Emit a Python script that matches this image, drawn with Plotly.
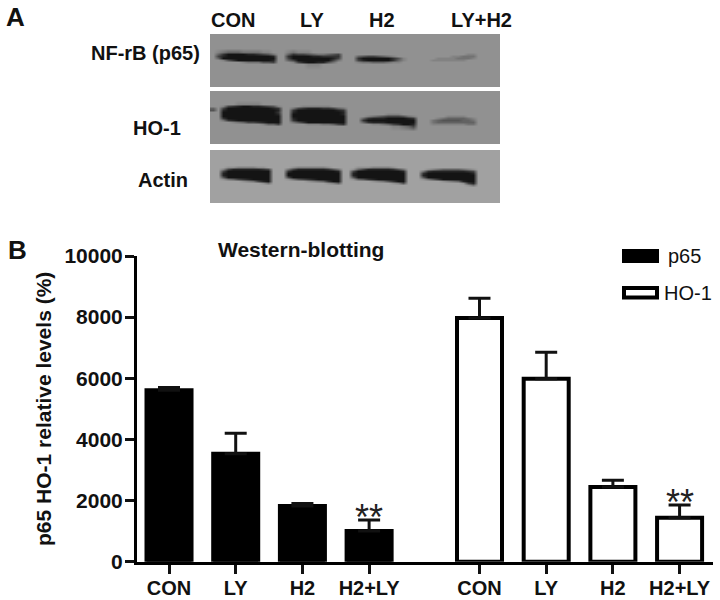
import plotly.graph_objects as go

FONT = "Liberation Sans"

# panel B: bar heights and upper error bars
groups = ["CON", "LY", "H2", "H2+LY"]
p65_values = [5610, 3535, 1820, 1005]
p65_errors = [90, 665, 80, 360]
ho1_values = [7972, 5987, 2444, 1440]
ho1_errors = [643, 863, 219, 415]
y_ticks = [0, 2000, 4000, 6000, 8000, 10000]

# panel A: blot labels
lanes = ["CON", "LY", "H2", "LY+H2"]
blots = ["NF-rB (p65)", "HO-1", "Actin"]

# blot images, one hex digit per 5 px cell (0 = black, F = white)
p65_rows_y = [3, 9, 14, 18, 20, 22, 24, 26, 28, 30, 36, 43, 47, 51]
p65_rows = [
    "8 888888888888 88 88888888888 888 8888888888 88888 888888888 88888",
    "8 888888888888 88 88888888888 888 8888888888 88888 888888888 88888",
    "8 888888888888 88 88888888888 888 8888888888 88888 888888888 88888",
    "8 765556666778 88 76777888888 888 8888888888 88888 888888888 88888",
    "8 520000112346 88 52334566543 888 8888888888 88888 888888877 88888",
    "8 310000000001 88 20000112222 888 5433456788 88888 888877666 88888",
    "8 500000000000 88 30000000013 888 2000000247 88888 877776667 88888",
    "8 874200000001 88 53000000036 888 3100000257 88888 777777788 88888",
    "8 888887666443 88 87310011468 888 7665556778 88888 888888888 88888",
    "8 888888888888 88 88887778888 888 8888888888 88888 888888888 88888",
    "8 888888888888 88 88888888888 888 8888888888 88888 888888888 88888",
    "8 888888888888 88 88888888888 888 8888888888 88888 888888888 88888",
    "8 888888888888 88 88888888888 888 8888888888 88888 888888888 88888",
    "8 888888888888 88 88888888888 888 8888888888 88888 888888888 88888",
]

ho1_rows_y = [3, 9, 13, 15, 17, 19, 21, 23, 25, 27, 29, 31, 33, 35, 40, 46, 50, 52]
ho1_rows = [
    "88 888888888888 88 88888888888 888 88888888888 888 888888888 88888",
    "88 888888888888 88 88888888888 888 88888888888 888 888888888 88888",
    "88 888777778888 88 88888888888 888 88888888888 888 888888888 88888",
    "88 732100112347 88 88777777888 888 88888888888 888 888888888 88888",
    "58 300000000012 88 63211122356 888 88888888888 888 888888888 88888",
    "48 100000000001 88 20000000012 888 88888888888 888 888888888 88888",
    "88 000000000002 88 10000000001 888 88888888888 888 888888888 88888",
    "88 000000000001 88 00000000001 888 88888777888 888 888888888 88888",
    "88 000000000000 88 00000000000 888 87654333467 888 888777788 88888",
    "88 200000000000 88 10000000000 888 52111000012 888 876555567 88888",
    "88 621000000000 88 20000000000 888 20000000000 888 654444556 88888",
    "88 887653321000 88 64200000000 888 52111000000 888 655555555 88888",
    "88 888888887553 88 88877766532 888 88776532001 888 777777766 88888",
    "88 888888888888 88 88888888888 888 88888877653 888 888888888 88888",
    "88 888888888888 88 88888888888 888 88888888888 888 888888888 88888",
    "88 888888888888 88 88888888888 888 88888888888 888 888888888 88888",
    "88 888888888888 88 88888888888 888 88888888888 888 888888888 88888",
    "88 888888888888 88 88888888888 888 88888888888 888 888888888 88888",
]

actin_rows_y = [3, 9, 15, 17, 19, 21, 23, 25, 27, 29, 31, 33, 35, 37, 42, 47, 51]
actin_rows = [
    "99 9999999999 999 99999999999 99 99999999999 999 99999999999 99999",
    "99 9999999999 999 99999999999 99 99999999999 999 99999999999 99999",
    "99 9999999999 999 99999999999 99 99999999999 999 99999999999 99999",
    "99 9887777889 999 98777777899 99 98887777899 999 99999999999 99999",
    "99 7311111123 999 63111111246 99 85311111246 999 98765555678 99999",
    "99 3000000000 999 20000000001 99 30000000001 999 62111111123 99999",
    "99 1000000000 999 00000000000 99 10000000000 999 20000000001 99999",
    "99 1000000000 999 00000000000 99 10000000000 999 10000000000 99999",
    "99 4000000000 999 30000000000 99 40000000000 999 40000000000 99999",
    "99 8653210000 999 86432100000 99 85421000000 999 86420000000 99999",
    "99 9999876310 999 99998765200 99 99998764200 999 99998765100 99999",
    "99 9999999986 999 99999999875 99 99999999874 999 99999999831 99999",
    "99 9999999999 999 99999999999 99 99999999999 999 99999999986 99999",
    "99 9999999999 999 99999999999 99 99999999999 999 99999999999 99999",
    "99 9999999999 999 99999999999 99 99999999999 999 99999999999 99999",
    "99 9999999999 999 99999999999 99 99999999999 999 99999999999 99999",
    "99 9999999999 999 99999999999 99 99999999999 999 99999999999 99999",
]

W, H = 720, 600
GROUP_OFFSET = 4.655


def decode(rows):
    return [[int(c, 16) * 17 for c in r.replace(" ", "")] for r in rows]


def px_x(p):
    return p / W


def px_y(p):
    return 1 - p / H


def label(text, x, y, size=20, bold=True):
    return dict(text=f"<b>{text}</b>" if bold else text, x=px_x(x), y=px_y(y),
                xref="paper", yref="paper", showarrow=False,
                xanchor="center", yanchor="middle",
                font=dict(family=FONT, size=size, color="#111"))


fig = go.Figure()

# --- panel A ---
cols_x = [2.5 + 5 * i for i in range(58)]
for rows, rows_y, top in [(p65_rows, p65_rows_y, 0),
                          (ho1_rows, ho1_rows_y, 57),
                          (actin_rows, actin_rows_y, 116)]:
    fig.add_trace(go.Heatmap(
        z=decode(rows), x=cols_x, y=[v + top for v in rows_y],
        zmin=0, zmax=255, zsmooth="best", showscale=False, hoverinfo="skip",
        colorscale=[[0, "#141414"], [1, "#ffffff"]],
        xaxis="x2", yaxis="y2",
    ))

# --- panel B ---
xs_p65 = list(range(len(groups)))
xs_ho1 = [i + GROUP_OFFSET for i in xs_p65]

fig.add_trace(go.Bar(
    x=xs_p65, y=p65_values, name="p65", width=0.675,
    marker=dict(color="black", line=dict(color="black", width=4)),
    error_y=dict(type="data", symmetric=False, array=p65_errors,
                 arrayminus=[0] * 4, color="#111", thickness=3, width=11),
))
fig.add_trace(go.Bar(
    x=xs_ho1, y=ho1_values, name="HO-1", width=0.675,
    marker=dict(color="white", line=dict(color="black", width=4)),
    error_y=dict(type="data", symmetric=False, array=ho1_errors,
                 arrayminus=[0] * 4, color="#111", thickness=3, width=11),
))

annotations = [
    label("A", 15, 17, size=26),
    label("B", 17, 250, size=26),
    label("Western-blotting", 301, 249, size=21),
    label(lanes[0], 233, 20),
    label(lanes[1], 312, 20),
    label(lanes[2], 382, 20),
    label(lanes[3], 481.5, 20),
    label(blots[0], 145, 53),
    label(blots[1], 157, 128),
    label(blots[2], 163, 180),
    label("p65", 684, 256, size=20, bold=False),
    label("HO-1", 688, 293, size=20, bold=False),
]
# significance marks sit on the two H2+LY bars
for x, y in [(xs_p65[3], p65_values[3] + p65_errors[3]),
             (xs_ho1[3], ho1_values[3] + ho1_errors[3])]:
    annotations.append(dict(
        text="**", x=x, y=y, xref="x", yref="y", showarrow=False, yanchor="bottom",
        yshift=-20, font=dict(family=FONT, size=36, color="#222"),
    ))

# swatches drawn by hand, plotly's legend keys are too small for these
shapes = [
    dict(type="rect", xref="paper", yref="paper", x0=px_x(622), x1=px_x(659),
         y0=px_y(263), y1=px_y(249), fillcolor="black", line=dict(width=0)),
    dict(type="rect", xref="paper", yref="paper", x0=px_x(624), x1=px_x(657),
         y0=px_y(297.5), y1=px_y(288), fillcolor="white",
         line=dict(color="black", width=4)),
]

fig.update_layout(
    width=W, height=H, margin=dict(l=0, r=0, t=0, b=0, autoexpand=False),
    paper_bgcolor="white", plot_bgcolor="white", showlegend=False,
    font=dict(family=FONT, color="#111"),
    annotations=annotations, shapes=shapes,
    xaxis=dict(
        domain=[px_x(137), px_x(713)], range=[-0.48, 8.156], automargin=False,
        tickvals=xs_p65 + xs_ho1, ticktext=groups + groups, ticklabelstandoff=-3,
        showgrid=False, zeroline=False, showline=True, linecolor="black", linewidth=3,
        ticks="outside", ticklen=9, tickwidth=3, tickcolor="#111",
        tickfont=dict(family=FONT, size=20, color="#111", weight="bold"),
    ),
    yaxis=dict(
        domain=[px_y(561.7), px_y(256)], range=[0, 10000], automargin=False,
        tickvals=y_ticks, tickformat="d", ticklabelstandoff=-2,
        showgrid=False, zeroline=False, showline=True, linecolor="black", linewidth=3,
        ticks="outside", ticklen=9, tickwidth=3, tickcolor="#111",
        tickfont=dict(family=FONT, size=21, color="#111", weight="bold"),
        title=dict(text="<b>p65 HO-1 relative levels (%)</b>", standoff=8,
                   font=dict(family=FONT, size=21, color="#111")),
    ),
    xaxis2=dict(domain=[px_x(210), px_x(500)], range=[0, 290], visible=False),
    yaxis2=dict(domain=[px_y(203), px_y(34)], range=[169, 0], visible=False),
)

fig.write_html("out.html", config={"displayModeBar": False},
               post_script="document.body.style.margin='0';")
